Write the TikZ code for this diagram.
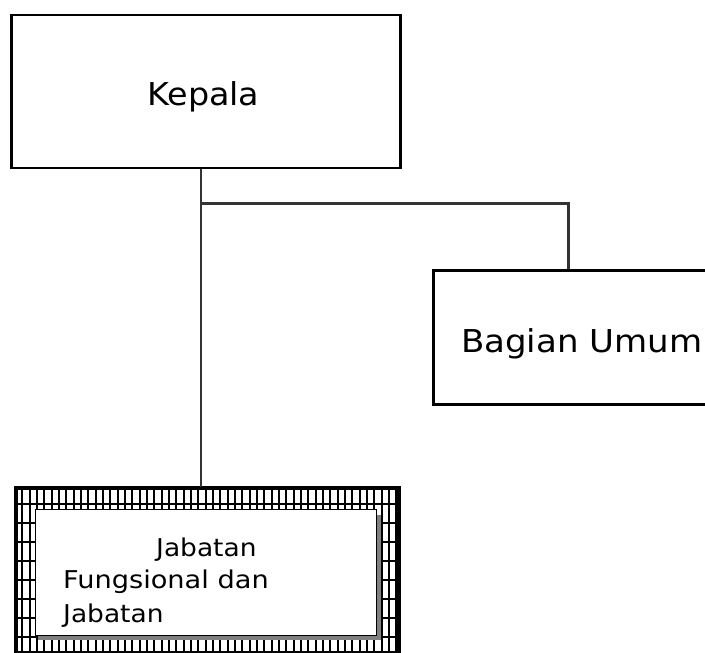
\documentclass[tikz,border=0pt]{standalone}
\usepackage{fontspec}
\setmainfont{DejaVu Sans}
\begin{document}
\begin{tikzpicture}[x=1pt,y=-1pt,
  box/.style={draw=black,line width=2.6pt,fill=white,inner sep=0pt,anchor=north west},
  conn/.style={draw=black!80,line width=2.2pt},
  hatch/.style={draw=black,line width=2pt},
  lbl/.style={anchor=base west,inner sep=0pt},
  bigtxt/.style={font=\fontsize{31.5}{38}\selectfont},
  smalltxt/.style={font=\fontsize{24.5}{29}\selectfont}]
\useasboundingbox (0,0) rectangle (705,653);
% boxes
\node[box,minimum width=389pt,minimum height=153pt] (kepala) at (10,13.5) {};
\node[box,minimum width=300pt,minimum height=134pt] (umum) at (432,269) {};
\node[box,minimum width=382pt,minimum height=164pt] (frame) at (15,487) {};
% hatching of the frame
\begin{scope}
  \clip (frame.north west) rectangle (frame.south east);
  \foreach \i in {0,...,52} \draw[hatch] (15+7.33*\i,487) -- ++(0,164);
  \foreach \j in {0,...,7} \draw[hatch] (15,504+19*\j) -- ++(382,0);
\end{scope}
\draw[line width=2.6pt] (frame.north west) rectangle (frame.south east);
% shadow and inner box
\fill[black!50] (38,515) rectangle (381,640);
\node[draw=black,line width=1.4pt,fill=white,inner sep=0pt,anchor=north west,
      minimum width=341pt,minimum height=126pt] (inner) at (35,509) {};
% labels
\node[lbl,bigtxt] (tkepala) at (147,105) {\scalebox{1.06}[1]{Kepala}};
\node[lbl,bigtxt] (tumum) at (461,352) {\scalebox{1.08}[1]{Bagian Umum}};
\node[lbl,smalltxt] (t1) at (156,556) {\scalebox{1.08}[1]{Jabatan}};
\node[lbl,smalltxt] (t2) at (63,588) {\scalebox{1.11}[1]{Fungsional dan}};
\node[lbl,smalltxt] (t3) at (63,622) {\scalebox{1.08}[1]{Jabatan}};
% connectors
\coordinate (j1) at (201,203.5);
\coordinate (j2) at (568.5,203.5);
\draw[conn] (kepala.south -| j1) -- (frame.north -| j1);
\draw[conn] (j1) -- (j2) -- (umum.north -| j2);
\end{tikzpicture}
\end{document}
